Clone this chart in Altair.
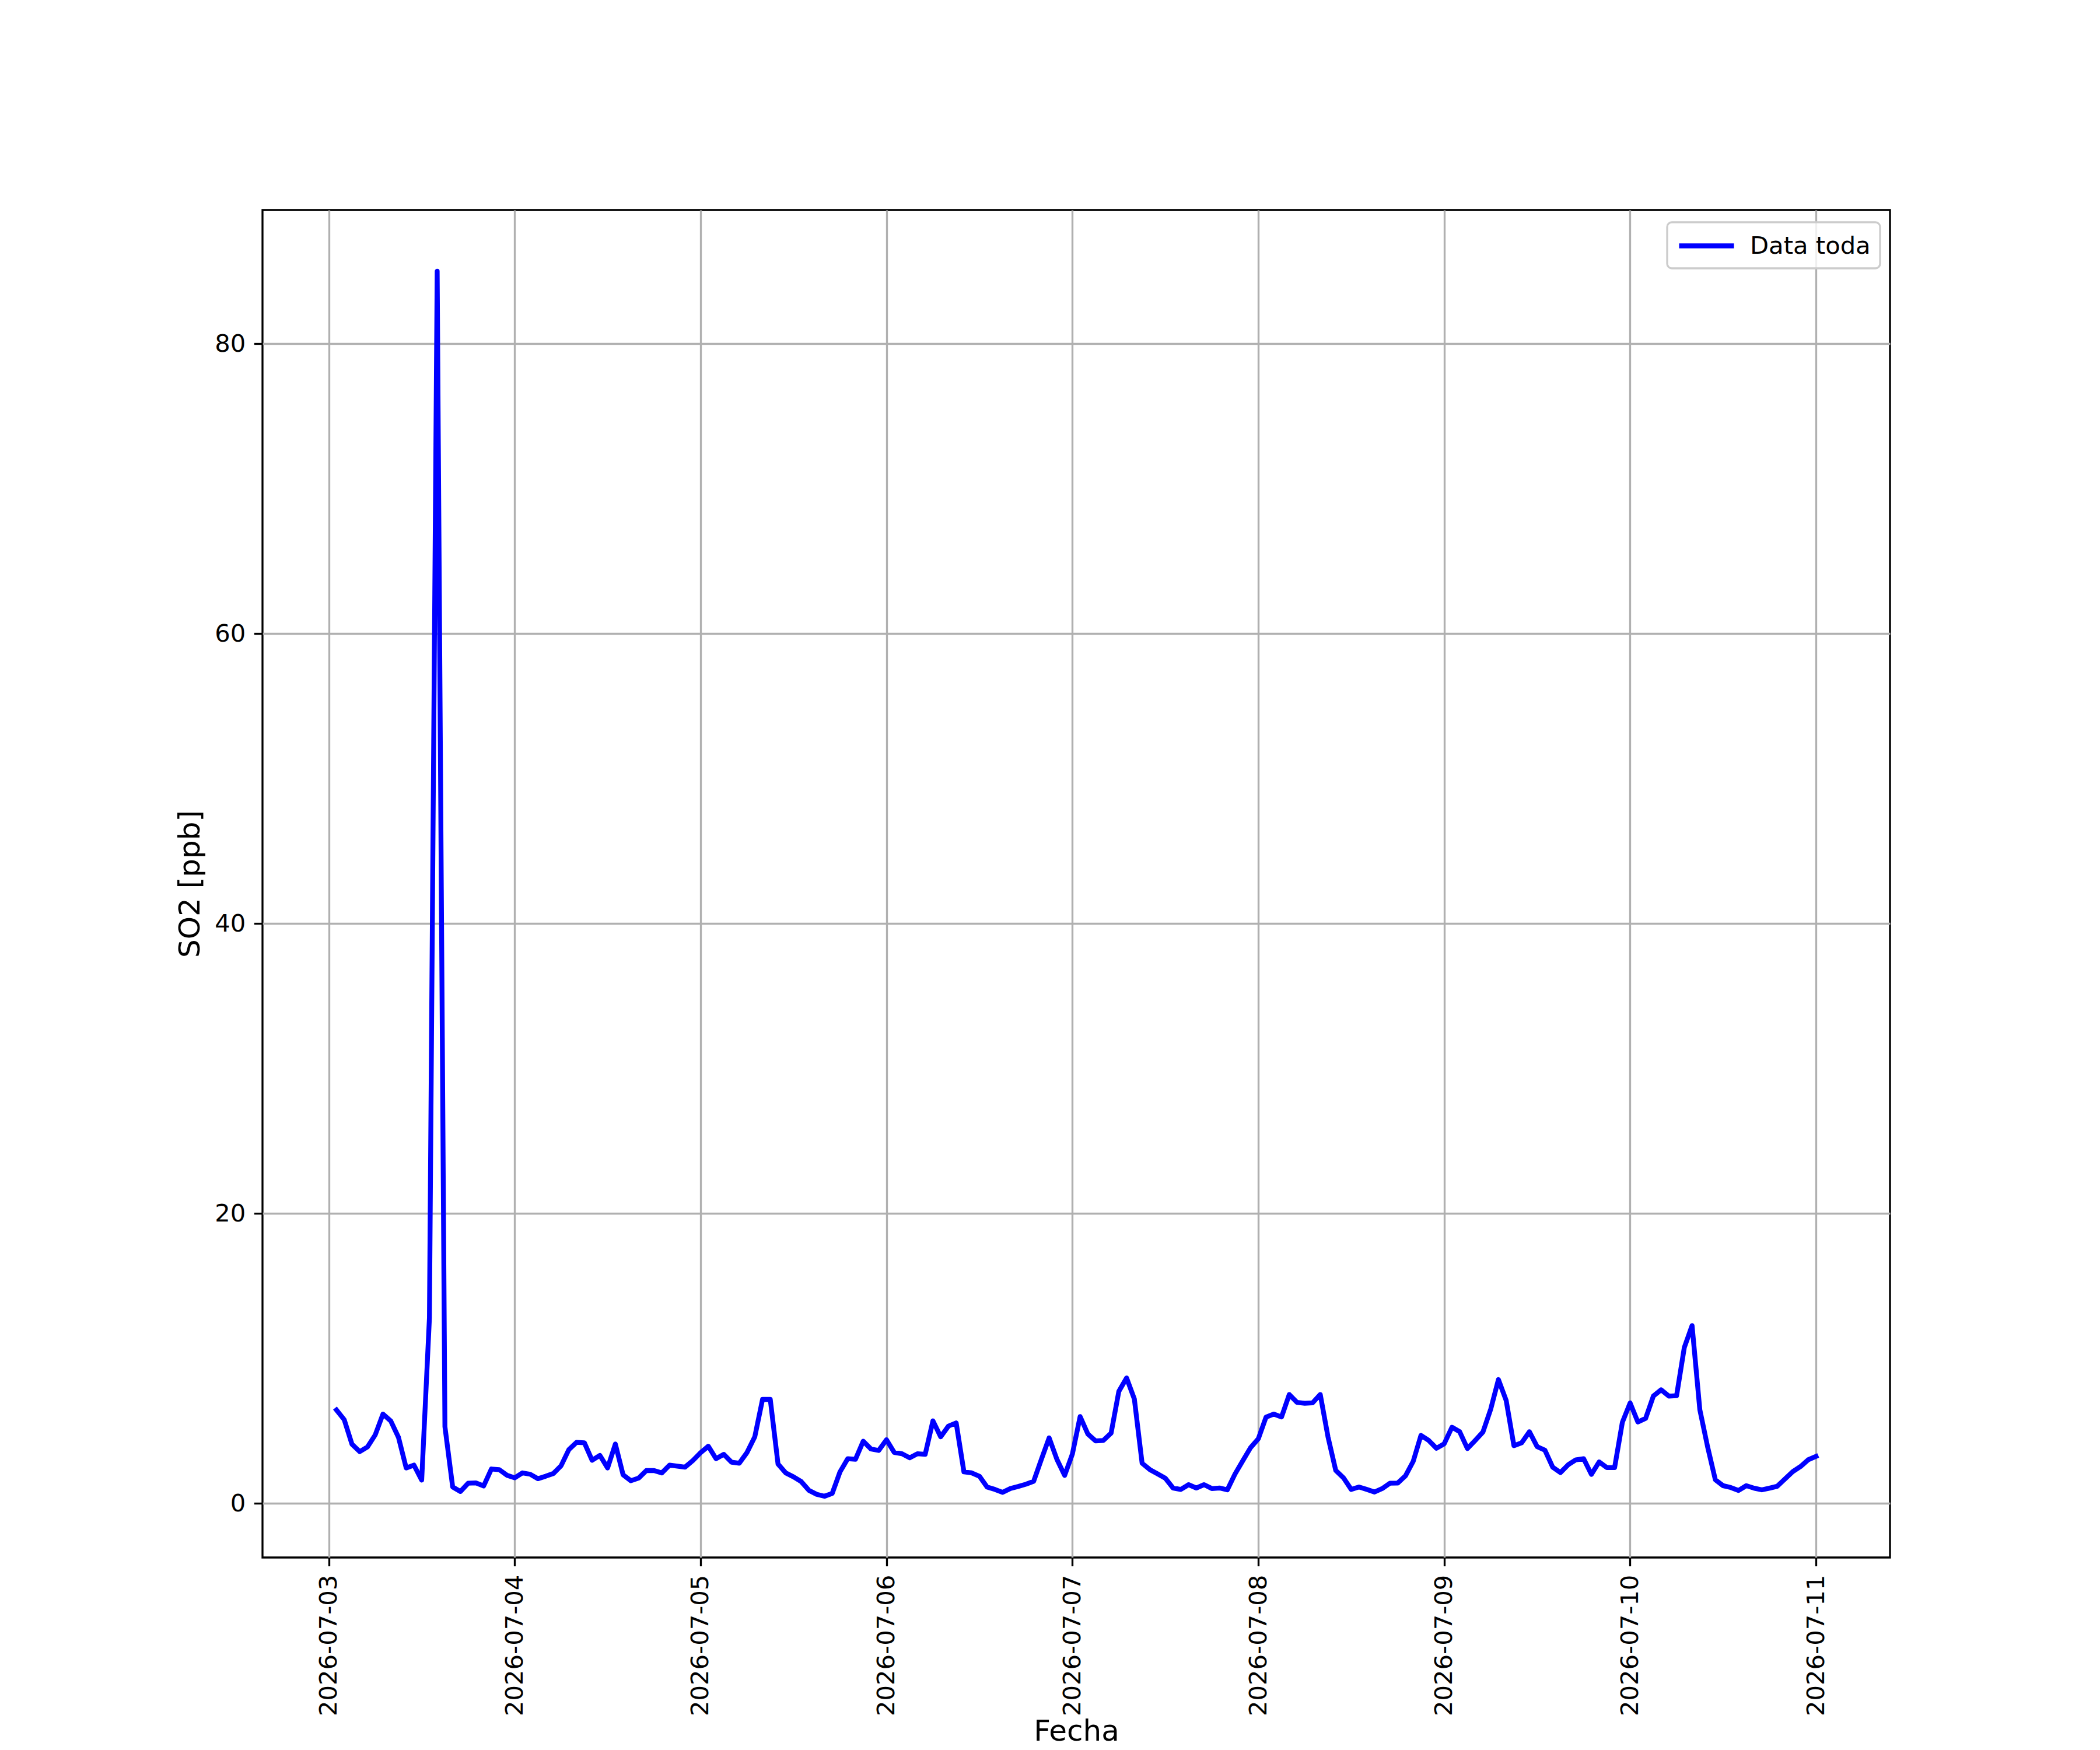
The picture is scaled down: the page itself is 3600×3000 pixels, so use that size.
import altair as alt
import pandas as pd

# Hourly SO2 readings [ppb], 2026-07-03 01:00 .. 2026-07-11 00:00 (24 per day)
day_0703 = [6.45, 5.78, 4.09, 3.58, 3.90, 4.73, 6.17, 5.70, 4.57, 2.45, 2.65, 1.61,
            12.8, 85.0, 5.30, 1.14, 0.83, 1.40, 1.42, 1.21, 2.38, 2.34, 1.95, 1.77]
day_0704 = [2.11, 2.02, 1.71, 1.88, 2.07, 2.61, 3.72, 4.22, 4.19, 2.98, 3.32, 2.45,
            4.10, 1.98, 1.57, 1.75, 2.27, 2.27, 2.11, 2.65, 2.58, 2.51, 2.96, 3.50]
day_0705 = [3.95, 3.09, 3.39, 2.85, 2.78, 3.52, 4.60, 7.18, 7.18, 2.72, 2.11, 1.84,
            1.51, 0.90, 0.63, 0.50, 0.70, 2.18, 3.09, 3.05, 4.30, 3.76, 3.66, 4.40]
day_0706 = [3.52, 3.43, 3.15, 3.43, 3.39, 5.70, 4.60, 5.34, 5.56, 2.18, 2.11, 1.88,
            1.13, 0.97, 0.77, 1.03, 1.17, 1.33, 1.53, 3.05, 4.53, 3.05, 1.94, 3.41]
day_0707 = [6.00, 4.79, 4.32, 4.35, 4.86, 7.74, 8.66, 7.21, 2.78, 2.34, 2.04, 1.74,
            1.07, 0.97, 1.30, 1.07, 1.30, 1.03, 1.07, 0.94, 2.04, 2.95, 3.85, 4.46]
day_0708 = [5.96, 6.17, 5.97, 7.52, 6.97, 6.91, 6.94, 7.52, 4.59, 2.28, 1.77, 0.97,
            1.14, 0.97, 0.79, 1.03, 1.40, 1.41, 1.91, 2.91, 4.70, 4.35, 3.81, 4.12]
day_0709 = [5.26, 4.95, 3.79, 4.35, 4.93, 6.50, 8.55, 7.11, 3.99, 4.19, 4.95, 3.92,
            3.68, 2.51, 2.13, 2.67, 3.01, 3.09, 2.01, 2.87, 2.48, 2.48, 5.60, 6.94]
day_0710 = [5.62, 5.87, 7.41, 7.84, 7.41, 7.44, 10.77, 12.27, 6.47, 3.92, 1.64, 1.23,
            1.10, 0.90, 1.23, 1.06, 0.94, 1.06, 1.19, 1.70, 2.20, 2.55, 3.02, 3.25]

series_name = "Data toda"
tick_days = ["2026-07-03", "2026-07-04", "2026-07-05", "2026-07-06", "2026-07-07",
             "2026-07-08", "2026-07-09", "2026-07-10", "2026-07-11"]
y_ticks = [0, 20, 40, 60, 80]

values = (day_0703 + day_0704 + day_0705 + day_0706 +
          day_0707 + day_0708 + day_0709 + day_0710)
times = pd.date_range("2026-07-03 01:00", periods=len(values), freq="h")

df = pd.DataFrame({
    "Fecha": [t.strftime("%Y-%m-%dT%H:%M:%S") for t in times],
    "SO2": values,
    "serie": series_name,
})

def dt(s, h=0, m=0):
    y, mo, d = (int(p) for p in s.split("-"))
    return alt.DateTime(year=y, month=mo, date=d, hours=h, minutes=m)

FS = 41.7      # tick / legend labels (10 pt at 300 dpi)
TFS = 50       # axis titles (12 pt at 300 dpi)
LW = 3.33

chart = alt.Chart(df).mark_line(
    strokeWidth=8.3, strokeJoin="round", strokeCap="square"
).encode(
    x=alt.X(
        "Fecha:T",
        scale=alt.Scale(domain=[dt("2026-07-02", 15, 27), dt("2026-07-11", 9, 33)], nice=False),
        axis=alt.Axis(
            values=[dt(s) for s in tick_days],
            format="%Y-%m-%d",
            labelAngle=270,
            labelLimit=0,
            title="Fecha",
            titleFontSize=TFS,
            titleBaseline="alphabetic",
            titleY=313,
        ),
    ),
    y=alt.Y(
        "SO2:Q",
        scale=alt.Scale(domain=[-3.725, 89.225], nice=False, zero=False),
        axis=alt.Axis(values=y_ticks, title="SO2 [ppb]", titleFontSize=TFS,
                      titlePadding=16, format="d", labelLimit=0),
    ),
    color=alt.Color(
        "serie:N",
        scale=alt.Scale(domain=[series_name], range=["#0000ff"]),
        legend=alt.Legend(
            title=None,
            orient="none",
            legendX=2408,
            legendY=21,
            symbolType="M-2.35,0H2.35",
            symbolSize=1600,
            symbolOffset=27,
            symbolStrokeWidth=8.3,
            labelFontSize=FS,
            labelLimit=0,
            labelOffset=50,
            labelColor="black",
            padding=16,
            fillColor="rgba(255,255,255,0.8)",
            strokeColor="#cccccc",
            cornerRadius=8,
        ),
    ),
).properties(
    width=2790,
    height=2310,
    autosize=alt.AutoSizeParams(type="none"),
    padding={"left": 442, "top": 352, "right": 352, "bottom": 330},
).configure(
    font="DejaVu Sans",
    background="white",
).configure_view(
    stroke="black",
    strokeWidth=LW,
    fill="white",
).configure_axis(
    labelFont="DejaVu Sans",
    labelFontSize=FS,
    labelColor="black",
    labelPadding=14.6,
    tickSize=14.6,
    tickWidth=LW,
    tickColor="black",
    domain=False,
    grid=True,
    gridColor="#b0b0b0",
    gridWidth=LW,
    titleFont="DejaVu Sans",
    titleFontWeight="normal",
    titleColor="black",
    labelFlush=False,
    labelOverlap=False,
).configure_legend(
    labelFont="DejaVu Sans",
    strokeWidth=LW,
)

chart.save("out.html", embed_options={"renderer": "svg", "actions": False})
